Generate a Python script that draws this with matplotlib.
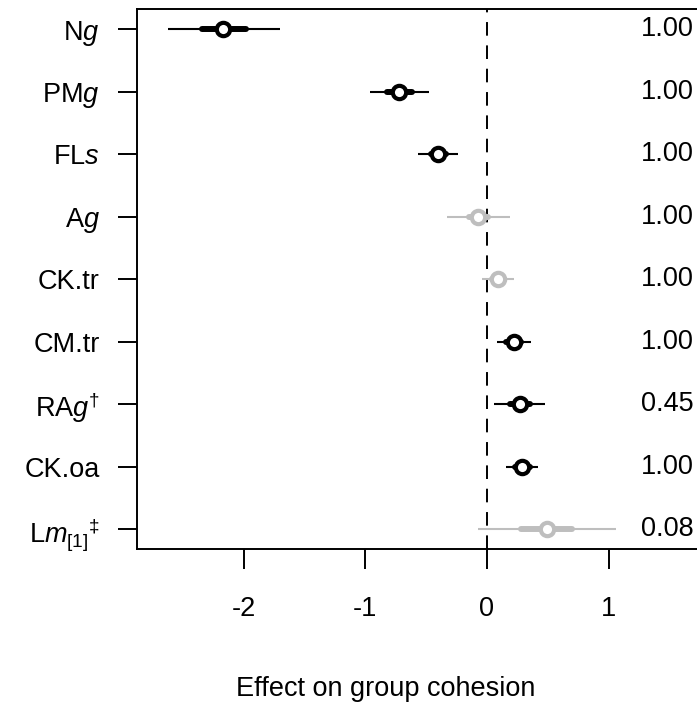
import matplotlib
matplotlib.use("Agg")
import matplotlib.pyplot as plt

plt.rcParams['font.family'] = ['Liberation Sans', 'DejaVu Sans']
plt.rcParams['mathtext.fontset'] = 'custom'
plt.rcParams['mathtext.rm'] = 'Liberation Sans'
plt.rcParams['mathtext.it'] = 'Liberation Sans:italic'
plt.rcParams['mathtext.bf'] = 'Liberation Sans:bold'

# Predictors, top to bottom
labels = [r'N$\mathit{g}$', r'PM$\mathit{g}$', r'FL$\mathit{s}$', r'A$\mathit{g}$',
          'CK.tr', 'CM.tr', r'RA$\mathit{g}^{\dag}$', 'CK.oa',
          r'L$\mathit{m}_{[1]}{}^{\ddag}$']
means = [-2.17, -0.72, -0.40, -0.07, 0.09, 0.22, 0.27, 0.29, 0.49]
ci95_lo = [-2.62, -0.96, -0.57, -0.33, -0.04, 0.08, 0.06, 0.16, -0.07]
ci95_hi = [-1.70, -0.48, -0.24, 0.19, 0.22, 0.36, 0.48, 0.42, 1.06]
ci50_lo = [-2.34, -0.82, -0.46, -0.15, 0.04, 0.16, 0.19, 0.23, 0.28]
ci50_hi = [-1.98, -0.62, -0.34, 0.01, 0.14, 0.28, 0.35, 0.35, 0.70]
prob = ['1.00', '1.00', '1.00', '1.00', '1.00', '1.00', '0.45', '1.00', '0.08']
credible = [True, True, True, False, False, True, True, True, False]

FS = 19.5
W, H = 697, 706
fig = plt.figure(figsize=(W / 100, H / 100), dpi=100)

# plot region (pixel coordinates); the region continues past the right edge
left_px, right_px, top_px, bottom_px = 137, 987, 9.3, 549
ax = fig.add_axes([left_px / W, 1 - bottom_px / H,
                   (right_px - left_px) / W, (bottom_px - top_px) / H])

x0_px, unit_px = 487, 121.7
ax.set_xlim((left_px - x0_px) / unit_px, (right_px - x0_px) / unit_px)
n = len(labels)
ax.set_ylim(n - 1 + 0.32, -0.32)

ax.axvline(0, color='black', lw=1.4, ls=(0, (7, 5)), zorder=1)

row_px = (bottom_px - top_px) / (n - 1 + 0.64)
for i in range(n):
    col = 'black' if credible[i] else '#BEBEBE'
    ax.plot([ci95_lo[i], ci95_hi[i]], [i, i], color=col, lw=1.5,
            solid_capstyle='butt', zorder=2)
    ax.plot([ci50_lo[i], ci50_hi[i]], [i, i], color=col, lw=4.3,
            solid_capstyle='round', zorder=3)
    ax.plot(means[i], i, 'o', ms=9.6, mfc='white', mec=col, mew=3.0, zorder=4)
    fig.text(694 / W, 1 - (top_px + row_px * (0.32 + i)) / H, prob[i],
             ha='right', va='center', fontsize=FS)

ax.set_yticks(range(n))
ax.set_yticklabels(labels, fontsize=FS)
ax.set_xticks([-2, -1, 0, 1])
ax.set_xticklabels(['-2', '-1', '0', '1'], fontsize=FS)
ax.tick_params(axis='y', length=13.7, width=1.4, pad=13)
ax.tick_params(axis='x', length=14.2, width=1.4, pad=20)

for s in ['left', 'top', 'bottom']:
    ax.spines[s].set_linewidth(1.4)
ax.spines['right'].set_visible(False)

fig.text(386 / W, 1 - 689 / H, 'Effect on group cohesion', ha='center',
         va='center', fontsize=FS)

fig.savefig('out.png', dpi=100)
